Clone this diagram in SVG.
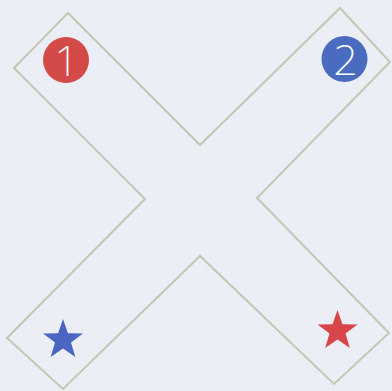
<svg xmlns="http://www.w3.org/2000/svg" width="392" height="391" viewBox="0 0 392 391">
<style>
.outline{fill:none;stroke:#c4c7b2;stroke-width:2;stroke-linejoin:miter}
.num{font-family:"Noto Sans","DejaVu Sans",sans-serif;font-weight:200;font-size:43px;fill:#ffffff;text-anchor:middle}
</style>
<defs>
<polygon id="star" points="0,-21 4.94,-6.8 19.97,-6.49 7.99,2.6 12.34,16.99 0,8.4 -12.34,16.99 -7.99,2.6 -19.97,-6.49 -4.94,-6.8"/>
</defs>
<rect x="0" y="0" width="392" height="391" fill="#eceef6"/>
<g id="x-shape">
<polygon class="outline" points="68,13 200,145 340,8 390,62 257,198 389,333 334,384 200,256 63,389 7,338 145,199 14,68"/>
</g>
<g id="badge-1">
<circle cx="66" cy="60" r="23" fill="#d44a48"/>
<text class="num" x="66.5" y="75.5">1</text>
</g>
<g id="badge-2">
<circle cx="344.5" cy="59" r="23" fill="#4a6cc0"/>
<text class="num" x="345.5" y="74.5">2</text>
</g>
<g id="star-blue">
<use href="#star" x="63" y="340" fill="#4a66c0"/>
</g>
<g id="star-red">
<use href="#star" x="337.5" y="331" fill="#d9464a"/>
</g>
</svg>
